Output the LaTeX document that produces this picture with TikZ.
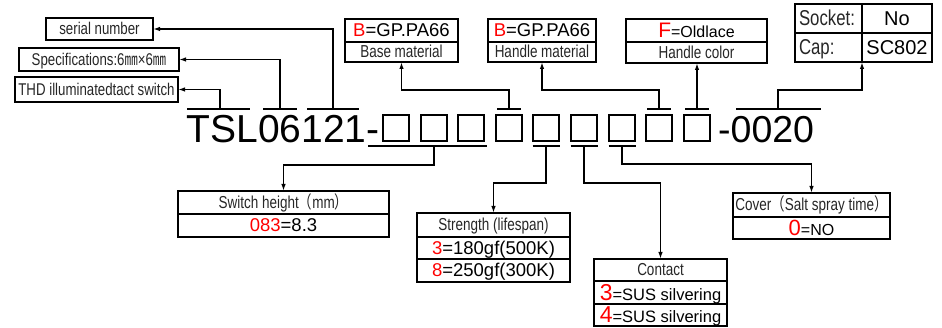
\documentclass[tikz,border=0pt]{standalone}
\usepackage{fontspec}
\setmainfont{Liberation Sans}
\newfontfamily\nar[FakeStretch=0.78]{Liberation Sans}
\newfontfamily\cjknar[FakeStretch=0.78]{Noto Sans CJK SC}
\usetikzlibrary{arrows.meta}
\definecolor{lbl}{gray}{0.15}
\definecolor{rd}{RGB}{255,0,0}
\newcommand{\fs}[1]{\fontsize{#1}{#1}\selectfont}
\tikzset{
  cell/.style={draw, line width=2pt, inner sep=0pt, outer sep=0pt, anchor=north west, text depth=0pt},
  lab/.style={cell, font=\nar\fs{17.3}, text=lbl, text height=12pt},
  val/.style={cell, font=\fs{18.5}, text height=13pt},
  sq/.style={draw, line width=2pt, minimum size=26pt, inner sep=0pt, outer sep=0pt},
  bar/.style={line width=1.9pt},
  con/.style={line width=1.7pt, -{Latex[length=7pt,width=4.5pt]}},
}
\begin{document}
\begin{tikzpicture}[x=1pt,y=-1pt]
\useasboundingbox (0,0) rectangle (942,328);

% left label boxes
\node[lab, font=\nar\fs{17}, minimum width=107pt, minimum height=22pt] (serial) at (46,18) {serial number};
\node[lab, font=\nar\fs{17}, minimum width=160pt, minimum height=23pt] (spec) at (19,48) {Specifications:6{\cjknar ㎜}×6{\cjknar ㎜}};
\node[lab, font=\nar\fs{17}, minimum width=163pt, minimum height=25pt] (thd) at (15,77) {THD illuminatedtact switch};

% top boxes
\node[val, minimum width=113pt, minimum height=23pt] (base1) at (345,19) {{\color{rd}B}=GP.PA66};
\node[lab, minimum width=113pt, minimum height=20pt] (base2) at (345,42) {Base material};
\node[val, minimum width=108pt, minimum height=23pt] (hm1) at (488,19) {{\color{rd}B}=GP.PA66};
\node[lab, minimum width=108pt, minimum height=20pt] (hm2) at (488,42) {Handle material};
\node[val, minimum width=141pt, minimum height=23pt, text height=15pt] (hc1) at (626,19) {{\fs{21}\color{rd}F}{\fs{16}=Oldlace}};
\node[lab, minimum width=141pt, minimum height=21pt] (hc2) at (626,42) {Handle color};

% socket / cap table
\node[lab, font=\nar\fs{21.5}, text height=15pt, minimum width=67pt, minimum height=29pt] (sk1) at (795,4) {\makebox[67pt][l]{\hspace{4pt}Socket:}};
\node[val, font=\fs{20}, text height=14.5pt, minimum width=70pt, minimum height=29pt] (sk2) at (862,4) {No};
\node[lab, font=\nar\fs{21.5}, text height=15pt, minimum width=67pt, minimum height=29pt] (cp1) at (795,33) {\makebox[67pt][l]{\hspace{4pt}Cap:}};
\node[val, font=\fs{20}, text height=14.5pt, minimum width=70pt, minimum height=29pt] (cp2) at (862,33) {SC802};

% bottom boxes
\node[lab, minimum width=211pt, minimum height=23pt] (sw1) at (178,191) {Switch height{\cjknar （}mm{\cjknar ）}};
\node[val, minimum width=211pt, minimum height=23pt] (sw2) at (178,214) {{\color{rd}083}=8.3};

\node[lab, minimum width=153pt, minimum height=24pt] (st1) at (417,213) {Strength (lifespan)};
\node[val, minimum width=153pt, minimum height=22pt] (st2) at (417,237) {{\color{rd}3}=180gf(500K)};
\node[val, minimum width=153pt, minimum height=23pt] (st3) at (417,259) {{\color{rd}8}=250gf(300K)};

\node[lab, minimum width=133pt, minimum height=22pt] (ct1) at (594,259) {Contact};
\node[val, text height=16pt, minimum width=133pt, minimum height=23pt] (ct2) at (594,281) {{\fs{23}\color{rd}3}{\fs{16.5}=SUS silvering}};
\node[val, text height=16pt, minimum width=133pt, minimum height=22pt] (ct3) at (594,304) {{\fs{23}\color{rd}4}{\fs{16.5}=SUS silvering}};

\node[lab, minimum width=157pt, minimum height=24pt] (cv1) at (733,193) {Cover{\cjknar （}Salt spray time{\cjknar ）}};
\node[val, text height=15.5pt, minimum width=157pt, minimum height=22pt] (cv2) at (733,217) {{\fs{22}\color{rd}0}{\fs{16}=NO}};

% part number
\node[anchor=base west, inner sep=0pt, font=\fs{39}] (code) at (186.5,143) {TSL06121-};
\foreach \i/\x in {1/396,2/434,3/471,4/509,5/546,6/584,7/622,8/659,9/697}
  \node[sq] (s\i) at (\x,128) {};
\node[anchor=base west, inner sep=0pt, font=\fs{37.5}] (tail) at (718,143) {-0020};

% top bars
\coordinate (tb1) at (220,109);
\coordinate (tb2) at (280,109);
\coordinate (tb3) at (333,109);
\coordinate (t4) at ([yshift=6pt]s4.north);
\coordinate (t8) at ([yshift=6pt]s8.north);
\coordinate (t9) at ([yshift=6pt]s9.north);
\coordinate (t0) at (778,109);
\draw[bar] (187,109) -- (250,109);
\draw[bar] (263,109) -- (297,109);
\draw[bar] (307,109) -- (359,109);
\foreach \c in {t4,t8,t9} \draw[bar] ([xshift=-12pt]\c) -- ([xshift=12pt]\c);
\draw[bar] (736,109) -- (821,109);

% bottom bars
\coordinate (bb) at ([yshift=-5pt]s2.south);
\coordinate (b5) at ([yshift=-5pt]s5.south);
\coordinate (b6) at ([yshift=-5pt]s6.south);
\coordinate (b7) at ([yshift=-5pt]s7.south);
\draw[bar] ([xshift=-15pt]s1.south west |- bb) -- ([xshift=3pt]s3.south east |- bb);
\foreach \c in {b5,b6,b7} \draw[bar] ([xshift=-13.5pt]\c) -- ([xshift=13.5pt]\c);

% connectors up
\draw[con] (tb3) |- (serial.east);
\draw[con] (tb2) |- (spec.east);
\draw[con] (tb1) |- (thd.east);
\draw[con] (t4) -- ++(0,-19) -| (base2.south);
\draw[con] (t8) -- ++(0,-19) -| (hm2.south);
\draw[con] (t9) -- (t9 |- hc2.south);
\draw[con] (t0) -- ++(0,-19) -| (cp1.south east);

% connectors down
\draw[con] (bb) -- ++(0,19) -| (sw1.north);
\draw[con] (b5) -- ++(0,37) -| (st1.north);
\draw[con] (b6) -- ++(0,37) -| (ct1.north);
\draw[con] (b7) -- ++(0,18) -| (cv1.north);
\end{tikzpicture}
\end{document}
